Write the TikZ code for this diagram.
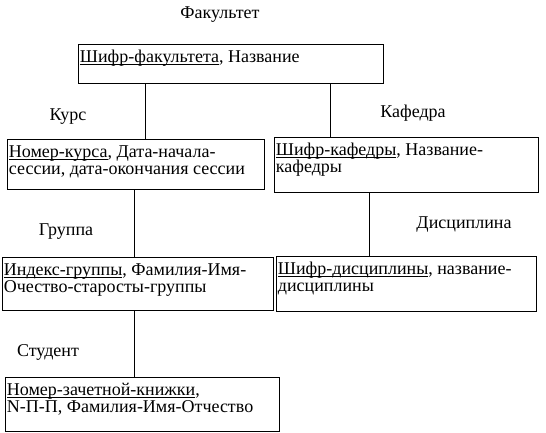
\documentclass[tikz,border=0pt]{standalone}
\usepackage{fontspec}
\setmainfont{Liberation Serif}
\usepackage{tikz}
\usetikzlibrary{positioning}
\definecolor{LineBlack}{RGB}{0,0,0}

\newcommand{\boxtext}[3]{\parbox[t][#2][t]{#1}{\raggedright\rule{0pt}{16pt}#3}}
\newcommand{\keyfield}[1]{\underline{\smash{#1}}}

\begin{document}
\begin{tikzpicture}[
  x=1pt, y=-1pt,
  font=\fontsize{18}{17.5}\selectfont,
  box/.style={draw=LineBlack, line width=0.8pt, anchor=north west, inner xsep=1.5pt, inner ysep=2pt, align=left},
  lbl/.style={inner sep=0pt},
  link/.style={draw=LineBlack, line width=0.8pt}
]
\useasboundingbox (0,0) rectangle (546,432);

\node[box] (fak) at (78,44) {\boxtext{302pt}{35pt}{\keyfield{Шифр-факультета}, Название}};
\node[box] (kurs) at (7,139) {\boxtext{254pt}{46pt}{\keyfield{Номер-курса}, Дата-начала-\\сессии, дата-окончания сессии}};
\node[box] (kaf) at (274,137) {\boxtext{261pt}{51pt}{\keyfield{Шифр-кафедры}, Название-\\кафедры}};
\node[box] (grp) at (2,257) {\boxtext{268pt}{49pt}{\keyfield{Индекс-группы}, Фамилия-Имя-\\Очество-старосты-группы}};
\node[box] (dis) at (276,256) {\boxtext{257pt}{51pt}{\keyfield{Шифр-дисциплины}, название-\\дисциплины}};
\node[box] (stud) at (5,377) {\boxtext{271pt}{50pt}{\keyfield{Номер-зачетной-книжки},\\N-П-П, Фамилия-Имя-Отчество}};

\node[lbl] (fakname) at (220,15) {Факультет};
\node[lbl] (kursname) at (68,117) {Курс};
\node[lbl] (kafname) at (413,113) {Кафедра};
\node[lbl] (grpname) at (66,232) {Группа};
\node[lbl] (disname) at (464,225) {Дисциплина};
\node[lbl] (studname) at (48,352) {Студент};

\draw[link] ([xshift=67pt]fak.south west) -- ([xshift=67pt]fak.south west |- kurs.north);
\draw[link] ([xshift=252pt]fak.south west) -- ([xshift=252pt]fak.south west |- kaf.north);
\draw[link] ([xshift=127pt]kurs.south west) -- ([xshift=127pt]kurs.south west |- grp.north);
\draw[link] ([xshift=95pt]kaf.south west) -- ([xshift=95pt]kaf.south west |- dis.north);
\draw[link] ([xshift=132pt]grp.south west) -- ([xshift=132pt]grp.south west |- stud.north);
\end{tikzpicture}
\end{document}
